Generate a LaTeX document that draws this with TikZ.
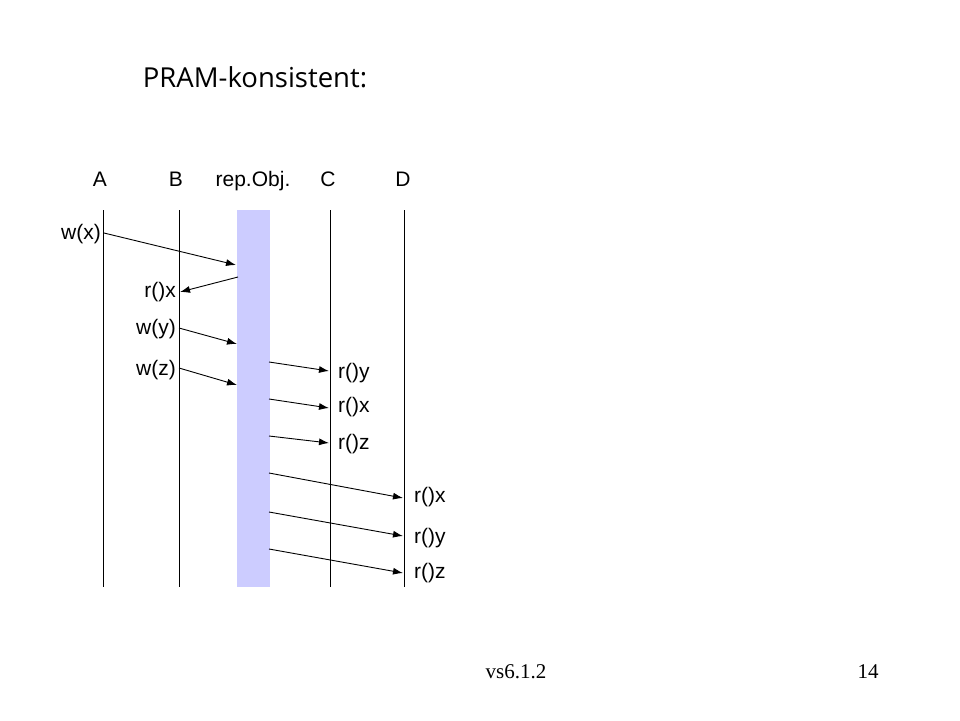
\documentclass[tikz,border=0pt]{standalone}
\usepackage{fontspec}
\setmainfont{Liberation Sans}
\newfontfamily\titlefont{Open Sans}
\newfontfamily\footfont{Liberation Serif}
\usetikzlibrary{arrows.meta}
\definecolor{repblue}{RGB}{204,204,255}
\begin{document}
\begin{tikzpicture}[x=1pt,y=-1pt,draw=black!100]
 	\def \lifetop{210}
 	\def \lifebot{587}
 	\tikzstyle{life}=[draw=black!100,line width=0.9pt]
 	\tikzstyle{msg}=[draw=black!100,line width=0.9pt,-{Latex[length=10pt,width=7pt]}]
 	\tikzstyle{annot} = [inner sep=0pt,text height=1.5ex,text depth=0pt,font=\fontsize{21}{24}\selectfont]
 	\useasboundingbox (0,0) rectangle (960,720);
 	\node[inner sep=0pt,text height=1.5ex,text depth=0pt,font=\titlefont\fontsize{27.5}{30}\selectfont] (title) at (255,84) {PRAM-konsistent:};
 	% process heads
 	\node[annot] (a-label) at (100,183) {A};
 	\node[annot] (b-label) at (176,183) {B};
 	\node[annot] (rep-label) at (253,183) {rep.Obj.};
 	\node[annot] (c-label) at (328,183) {C};
 	\node[annot] (d-label) at (403,183) {D};
 	% lifelines
 	\coordinate (a-top) at (103,\lifetop);
 	\coordinate (a-bot) at (103,\lifebot);
 	\coordinate (b-top) at (179,\lifetop);
 	\coordinate (b-bot) at (179,\lifebot);
 	\coordinate (c-top) at (330,\lifetop);
 	\coordinate (c-bot) at (330,\lifebot);
 	\coordinate (d-top) at (404,\lifetop);
 	\coordinate (d-bot) at (404,\lifebot);
 	\node[fill=repblue,inner sep=0pt,minimum width=33pt,minimum height=377pt,anchor=north] (rep) at (253.5,\lifetop) {};
 	\path[every edge/.style={life}] (a-top) edge (a-bot)
 		(b-top) edge (b-bot)
 		(c-top) edge (c-bot)
 		(d-top) edge (d-bot);
 	% operation labels
 	\node[annot,anchor=east] (wx) at (101,236) {w(x)};
 	\node[annot,anchor=east] (rbx) at (176,294) {r()x};
 	\node[annot,anchor=east] (wy) at (176,331) {w(y)};
 	\node[annot,anchor=east] (wz) at (176,372) {w(z)};
 	\node[annot,anchor=west] (rcy) at (338,375) {r()y};
 	\node[annot,anchor=west] (rcx) at (338,409) {r()x};
 	\node[annot,anchor=west] (rcz) at (338,446) {r()z};
 	\node[annot,anchor=west] (rdx) at (414,499) {r()x};
 	\node[annot,anchor=west] (rdy) at (414,540) {r()y};
 	\node[annot,anchor=west] (rdz) at (414,575) {r()z};
 	% message ends
 	\coordinate (wx-s) at (104,233);
 	\coordinate (wx-e) at (236,265);
 	\coordinate (rbx-s) at (238,277);
 	\coordinate (rbx-e) at (180,292);
 	\coordinate (wy-s) at (179,328);
 	\coordinate (wy-e) at (237,344);
 	\coordinate (wz-s) at (179,368);
 	\coordinate (wz-e) at (237,385);
 	\coordinate (rcy-s) at (269,362);
 	\coordinate (rcy-e) at (329,371);
 	\coordinate (rcx-s) at (269,399);
 	\coordinate (rcx-e) at (329,408);
 	\coordinate (rcz-s) at (269,436);
 	\coordinate (rcz-e) at (329,443);
 	\coordinate (rdx-s) at (269,473);
 	\coordinate (rdx-e) at (403,498);
 	\coordinate (rdy-s) at (269,512);
 	\coordinate (rdy-e) at (403,536);
 	\coordinate (rdz-s) at (269,549);
 	\coordinate (rdz-e) at (403,573);
 	\path[every edge/.style={msg}] (wx-s) edge (wx-e)
 		(rbx-s) edge (rbx-e)
 		(wy-s) edge (wy-e)
 		(wz-s) edge (wz-e)
 		(rcy-s) edge (rcy-e)
 		(rcx-s) edge (rcx-e)
 		(rcz-s) edge (rcz-e)
 		(rdx-s) edge (rdx-e)
 		(rdy-s) edge (rdy-e)
 		(rdz-s) edge (rdz-e);
 	% footer
 	\node[inner sep=0pt,font=\footfont\fontsize{21}{24}\selectfont] (foot) at (516,672) {vs6.1.2};
 	\node[inner sep=0pt,font=\footfont\fontsize{21}{24}\selectfont] (page) at (868,672) {14};
\end{tikzpicture}
\end{document}
